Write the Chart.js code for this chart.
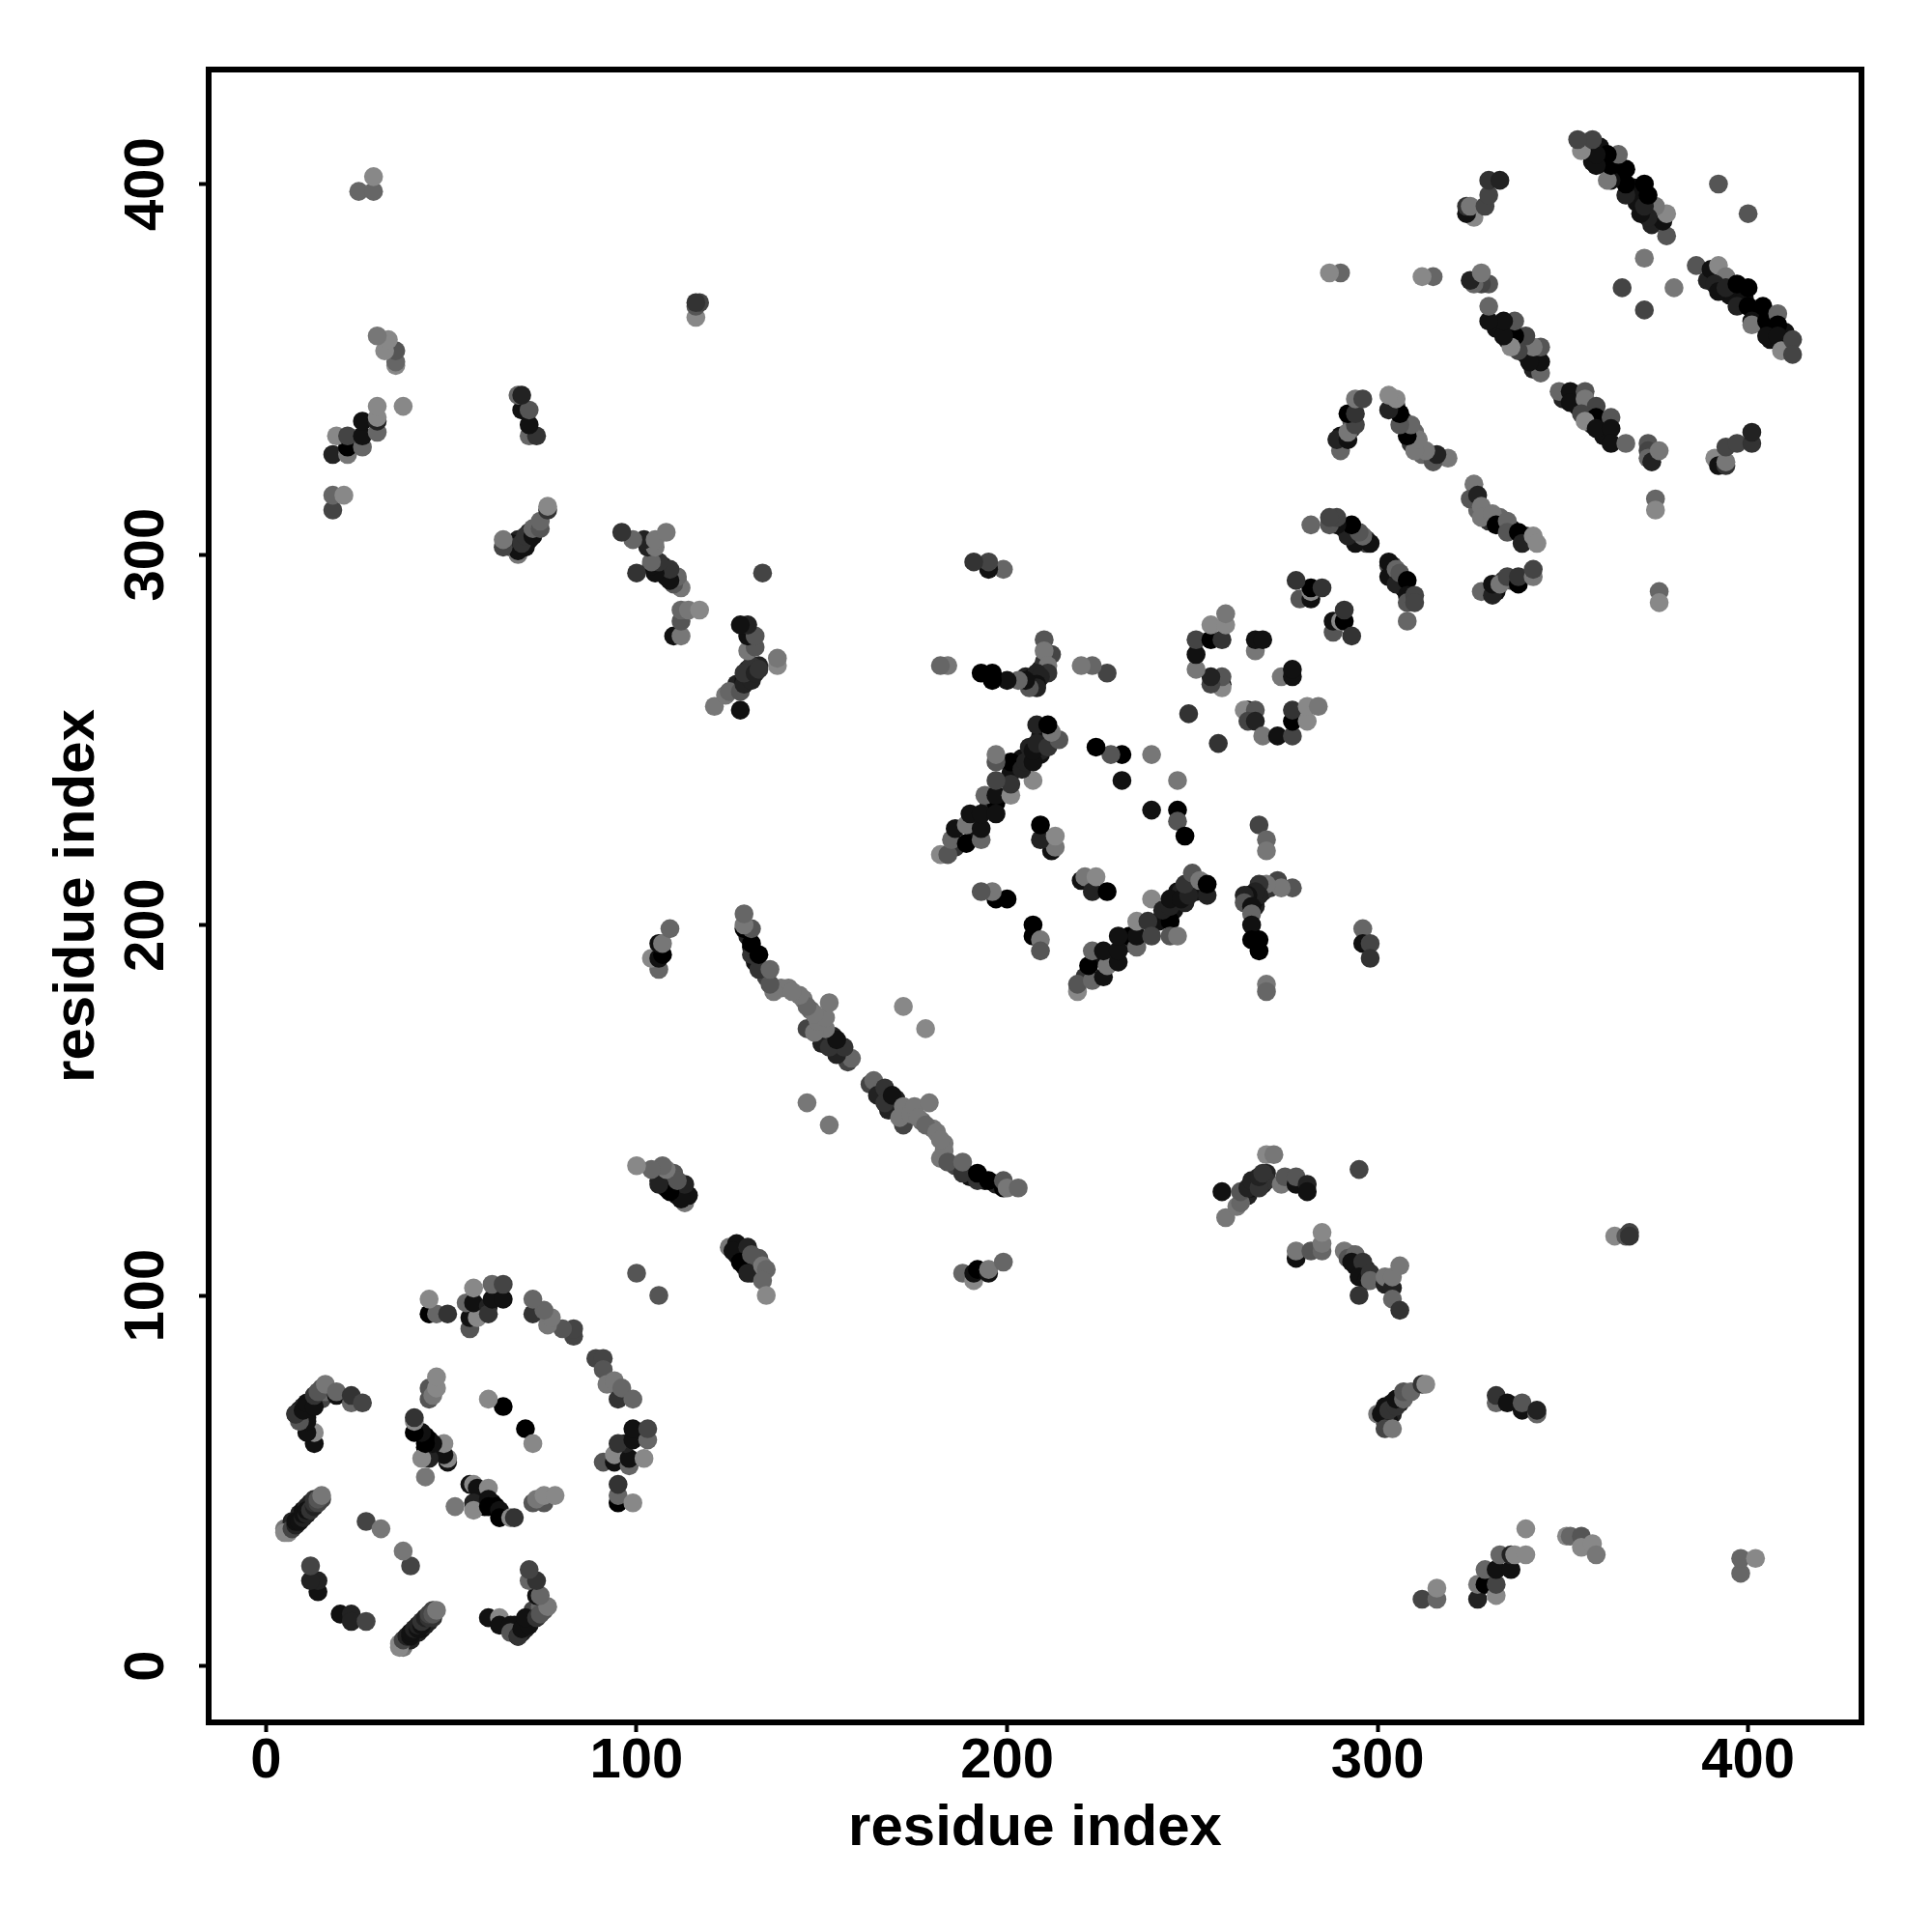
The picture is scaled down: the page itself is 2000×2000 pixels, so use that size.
<!DOCTYPE html>
<html lang="en">
<head>
  <meta charset="UTF-8">
  <title>Contact map</title>
  <script src="https://cdn.jsdelivr.net/npm/chart.js"></script>
  <style>
    html,body{margin:0;padding:0;background:#fff}
    canvas{display:block}
  </style>
</head>
<body>
<canvas id="map" width="2000" height="2000"></canvas>
<script>
const residueI=[
  37,37,38,39,40,41,42,43,43,44,45,45,
  67,67,69,70,71,72,72,75,74,68,70,
  58,59,61,58,
  127,129,129,132,133,131,133,128,
  165,166,168,170,171,173,177,180,183,183,170,186,190,194,197,169,168,
  266,267,269,266,265,267,271,
  228,224,221,232,245,246,245,247,248,250,251,243,241,233,
  304,306,304,307,
  332,334,336,
  327,329,330,333,336,340,
  350,353,354,357,357,358,361,361,362,
  393,395,399,402,404,406,406,410,411,389,
  264,265,267,266,269,270,270,
  294,295,297,296,293,
  303,304,306,304,303,302,
  36,36,37,38,39,39,40,41,41,42,42,43,44,44,45,46,
  20,23,23,27,39,37,
  60,63,63,66,66,68,68,69,71,70,73,74,76,73,74,71,73,71,
  51,55,56,57,60,56,56,60,60,62,63,63,66,67,
  72,75,73,75,78,70,72,
  89,91,91,92,94,95,96,99,
  95,95,95,99,91,94,94,98,98,102,97,95,99,103,99,103,106,
  125,127,126,130,128,131,130,134,135,134,135,
  188,191,191,192,195,195,199,
  163,164,165,167,167,169,172,172,171,174,175,176,178,179,178,181,182,182,184,188,188,192,192,195,199,199,200,203,152,
  207,207,209,209,
  277,273,274,270,268,268,267,265,264,264,266,266,266,266,268,268,270,270,268,270,270,
  296,296,298,298,
  219,219,223,222,226,227,223,226,230,230,230,235,235,235,238,239,244,244,246,239,242,244,244,247,249,248,250,252,254,254,
  220,221,223,224,227,
  239,246,246,248,246,
  257,265,264,267,265,267,269,273,277,277,277,281,281,284,
  274,277,277,288,288,290,291,291,293,
  303,303,303,305,305,306,308,308,308,310,310,308,
  328,331,331,333,335,338,338,342,342,
  326,325,327,328,328,331,332,335,335,338,339,342,343,
  349,352,352,356,356,359,355,359,356,363,359,363,363,367,
  373,373,373,374,376,375,375,376,376,
  391,392,394,394,394,397,401,401,
  400,380,372,
  386,390,392,394,391,392,394,397,400,397,400,404,401,401,405,407,408,408,405,408,409,412,412,
  258,259,262,263,263,265,266,268,268,269,270,272,274,275,278,278,281,281,295,
  278,278,282,285,285,285,291,292,294,293,296,295,297,298,298,295,302,302,304,304,306,304,306,
  300,301,302,304,302,303,305,305,307,307,309,312,313,
  332,332,335,339,339,343,343,
  312,316,316,327,327,329,329,332,332,332,336,333,336,337,340,340,351,352,355,355,358,359,398,398,402,
  364,367,368,368
];
const residueJ=[
  5,6,7,7,9,9,10,11,12,12,13,15,
  9,11,9,10,12,13,15,15,16,11,12,
  44,43,44,46,
  111,111,108,108,106,106,110,112,
  156,155,153,150,150,149,147,145,139,141,153,135,132,131,130,151,150,
  207,205,209,208,206,207,210,
  191,191,186,195,207,209,204,209,206,210,209,203,201,197,
  295,293,297,291,
  290,293,293,
  312,311,309,310,307,305,
  342,343,340,339,336,335,335,332,336,
  375,370,369,365,363,362,358,360,356,374,
  127,127,130,129,130,133,131,
  108,107,107,105,111,
  67,71,71,68,66,66,
  5,6,7,8,8,9,10,10,11,11,12,13,13,14,14,15,
  14,14,12,12,27,31,
  13,13,11,11,9,8,8,10,11,13,13,14,16,19,19,23,23,26,
  43,49,49,48,48,44,42,45,43,43,42,40,40,40,
  44,44,45,46,46,64,60,
  83,83,80,76,77,72,75,72,
  44,46,49,44,55,55,57,54,56,56,60,60,61,61,64,64,100,
  113,114,112,113,109,111,106,108,107,104,100,
  106,104,106,107,106,107,109,
  157,158,154,156,152,154,146,151,148,149,151,148,146,152,172,144,142,137,136,133,136,131,133,131,129,131,129,129,146,
  200,197,196,193,
  210,212,210,211,211,208,209,208,208,206,205,203,200,196,196,193,184,182,227,223,220,
  199,195,195,191,
  182,184,185,189,186,189,193,193,190,193,197,194,197,201,201,197,201,197,197,207,204,205,207,207,208,211,214,212,208,211,
  212,213,209,213,209,
  231,231,228,224,239,
  249,258,258,258,255,255,251,251,251,255,258,255,259,259,
  267,267,269,279,282,282,282,285,278,
  297,298,294,296,292,295,293,289,287,289,287,282,
  290,289,292,292,294,292,294,294,296,
  319,315,316,313,310,311,308,309,306,306,303,305,303,
  344,344,341,344,342,340,338,337,336,337,334,334,330,330,
  330,328,326,325,328,315,312,290,287,
  326,324,324,325,329,330,330,333,
  392,372,366,
  378,377,378,375,373,371,372,373,372,367,367,367,363,362,363,361,365,362,359,359,355,358,354,
  128,121,124,125,128,129,131,129,132,133,138,138,130,132,130,132,130,128,134,
  110,112,112,112,114,117,112,110,111,109,109,105,104,106,104,100,103,105,102,105,108,99,96,
  68,68,64,64,70,69,70,72,72,74,74,76,76,
  71,73,71,69,71,68,69,
  18,18,21,18,22,22,26,19,22,26,26,30,30,30,30,37,35,35,35,32,33,30,25,29,29,
  116,116,117,116
];
// grey step of each contact, 0 = black up to 8 = lightest
const greyStep=[
  7,6,3,2,1,2,1,2,1,2,3,4,
  1,1,2,2,2,3,4,5,6,1,1,
  1,0,0,1,
  1,1,1,3,5,2,5,1,
  2,1,1,5,6,6,6,7,7,7,2,4,1,1,2,3,2,
  1,2,2,1,2,1,3,
  1,1,3,3,1,1,1,2,2,2,1,1,1,0,
  2,1,3,1,
  1,3,5,
  6,5,3,6,1,3,
  2,1,1,2,1,2,1,1,3,
  3,1,1,0,0,0,1,1,3,2,
  3,2,2,1,2,2,3,
  1,1,2,1,5,
  1,1,2,2,1,3,
  8,8,4,2,1,1,2,1,2,1,3,2,3,4,5,7,
  1,2,2,4,4,7,
  1,8,1,1,5,2,3,1,1,1,3,5,7,1,6,6,3,4,
  7,1,8,1,8,2,8,1,0,0,1,0,8,3,
  5,5,7,8,8,0,8,
  4,4,5,7,7,3,6,6,
  0,6,3,8,5,1,8,6,1,8,2,3,1,6,1,4,5,
  7,1,1,2,0,5,2,7,6,6,8,
  6,8,1,0,1,7,6,
  4,6,2,3,3,1,4,7,7,7,7,7,6,7,8,7,7,7,5,3,6,3,0,0,0,5,7,6,7,
  0,0,7,5,
  5,4,7,7,3,2,2,1,2,5,1,6,1,0,0,0,7,6,4,6,7,
  6,1,4,3,
  8,5,6,0,1,7,6,1,1,1,1,6,1,8,3,4,0,5,7,8,2,2,1,1,2,3,5,7,2,0,
  1,7,2,8,0,
  1,0,5,0,7,
  3,1,8,5,4,2,7,1,4,0,3,8,8,7,
  7,1,1,5,1,8,0,3,3,
  4,1,1,6,2,5,0,1,5,4,4,6,
  6,2,1,7,4,0,3,7,4,
  7,5,2,7,7,7,0,6,5,0,2,8,8,
  6,1,1,5,7,4,4,0,8,5,1,1,1,6,
  5,4,6,2,7,6,8,6,8,
  8,1,3,7,4,4,3,2,
  5,7,4,
  5,1,8,7,2,1,2,0,0,2,0,0,1,7,0,0,6,0,1,1,8,4,4,
  1,7,7,6,5,2,2,3,2,3,8,7,7,5,1,5,2,1,4,
  1,7,5,6,7,8,7,5,6,1,3,1,1,3,6,3,2,7,2,7,7,6,3,
  7,1,4,7,1,3,3,1,6,5,6,3,8,
  6,3,1,1,5,6,2,
  4,6,8,2,7,0,6,8,4,1,1,6,2,8,8,8,8,6,5,8,8,7,6,6,8,
  8,5,4,3
];
const tickValues=[0,100,200,300,400];
const xLabel='residue index';
const yLabel='residue index';

// both sides of the diagonal
const points=[];
const colours=[];
residueI.forEach((i,k)=>{
  const g=greyStep[k]*17;
  const c=`rgb(${g},${g},${g})`;
  points.push({x:i,y:residueJ[k]},{x:residueJ[k],y:i});
  colours.push(c,c);
});

// R style box round the plot area
const boxPlugin={
  id:'box',
  afterDraw(chart){
    const a=chart.chartArea,ctx=chart.ctx;
    ctx.save();
    ctx.strokeStyle='#000';
    ctx.lineWidth=6;
    ctx.strokeRect(a.left,a.top,a.right-a.left,a.bottom-a.top);
    ctx.restore();
  }
};

const fontFamily="'Liberation Sans',Arial,sans-serif";
const setTicks=s=>{s.ticks=tickValues.map(v=>({value:v}));};

new Chart(document.getElementById('map'),{
  type:'scatter',
  data:{datasets:[{
    data:points,
    backgroundColor:colours,
    pointRadius:9.8,
    pointBorderWidth:0,
    clip:false
  }]},
  options:{
    responsive:false,
    animation:false,
    layout:{padding:{top:72,right:73,left:0,bottom:0}},
    plugins:{legend:{display:false},tooltip:{enabled:false}},
    scales:{
      x:{
        type:'linear',min:-15.5,max:430.6,
        afterBuildTicks:setTicks,
        afterFit(s){s.height=217;},
        grid:{drawOnChartArea:false,drawTicks:true,tickLength:10,tickWidth:4,tickColor:'#000'},
        border:{display:true,color:'#000',width:6},
        ticks:{color:'#000',padding:-4,maxRotation:0,autoSkip:false,font:{family:fontFamily,weight:'bold',size:58}},
        title:{display:true,text:xLabel,color:'#000',padding:{top:0,bottom:71},font:{family:fontFamily,weight:'bold',size:60}}
      },
      y:{
        type:'linear',min:-15.25,max:430.9,
        afterBuildTicks:setTicks,
        afterFit(s){s.width=216;},
        grid:{drawOnChartArea:false,drawTicks:true,tickLength:10,tickWidth:4,tickColor:'#000'},
        border:{display:true,color:'#000',width:6},
        ticks:{color:'#000',padding:5,minRotation:90,maxRotation:90,crossAlign:'center',autoSkip:false,font:{family:fontFamily,weight:'bold',size:58}},
        title:{display:true,text:yLabel,color:'#000',padding:{top:44,bottom:0},font:{family:fontFamily,weight:'bold',size:60}}
      }
    }
  },
  plugins:[boxPlugin]
});
</script>
</body>
</html>
